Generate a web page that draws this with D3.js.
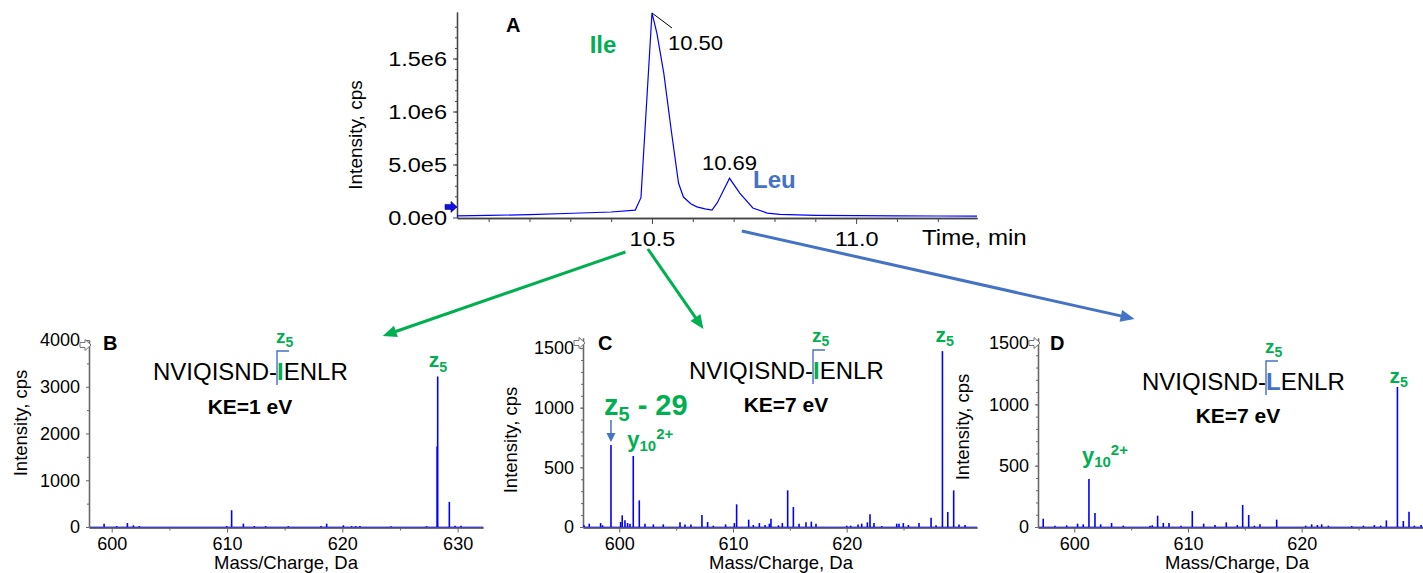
<!DOCTYPE html>
<html>
<head>
<meta charset="utf-8">
<script src="https://cdn.jsdelivr.net/npm/d3@7"></script>
<style>
  body { margin: 0; background: #fff; }
  svg { display: block; }
  text { font-family: "Liberation Sans", Arial, sans-serif; }
</style>
</head>
<body>
<svg id="fig" width="1423" height="573"></svg>
<script>
// ---------- Extracted-ion chromatogram (panel A) ----------
const chromTime = [10.0225, 10.1, 10.2, 10.307, 10.4, 10.459, 10.473, 10.50, 10.512, 10.529,
  10.548, 10.565, 10.577, 10.595, 10.61, 10.63, 10.647, 10.66, 10.69, 10.715,
  10.747, 10.782, 10.813, 10.9, 11.0, 11.1, 11.2, 11.296];
const chromIntensity = [1.6e4, 2.0e4, 2.7e4, 4.0e4, 5.2e4, 7.0e4, 1.87e5, 1.93e6, 1.74e6, 1.36e6,
  8.0e5, 3.25e5, 1.93e5, 1.3e5, 1.0e5, 8.2e4, 7.0e4, 1.4e5, 3.7e5, 2.3e5,
  9.0e4, 4.2e4, 3.0e4, 2.0e4, 1.7e4, 1.5e4, 1.4e4, 1.3e4];
const chromPeakTimes = [10.50, 10.69];
const chromTimeTicks = [10.5, 11.0];
const chromTimeMinorTicks = [10.1, 10.2, 10.3, 10.4, 10.6, 10.7, 10.8, 10.9, 11.1, 11.2];
const chromIntTicks = [0, 5e5, 1e6, 1.5e6];
const chromIntTickLabels = ["0.0e0", "5.0e5", "1.0e6", "1.5e6"];

// ---------- Product-ion spectra (panels B, C, D) ----------
const specB_mz = [599.34, 600.43, 601.36, 601.88, 602.4, 609.97, 610.40, 611.42, 612.37, 613.35,
  615.32, 618.15, 618.64, 620.09, 620.81, 621.16, 621.53, 624.22, 627.31, 628.22,
  628.27, 629.28, 629.77, 630.29];
const specB_int = [71, 20, 86, 36, 22, 22, 359, 72, 22, 20,
  20, 20, 72, 36, 20, 20, 20, 15, 20, 1720,
  3220, 538, 29, 29];

const specC_mz = [596.9, 597.36, 598.36, 598.53, 599.27, 600.12, 600.26, 600.5, 600.73, 600.94,
  601.23, 601.76, 602.26, 603.0, 603.87, 605.34, 605.78, 606.3, 607.27, 607.77,
  608.27, 609.35, 610.12, 610.32, 611.38, 611.79, 612.32, 612.82, 613.2, 613.34,
  614.0, 614.34, 614.81, 615.31, 615.81, 616.42, 616.89, 617.3, 620.0, 620.35,
  621.0, 621.32, 621.82, 622.05, 622.4, 623.08, 624.4, 624.6, 624.98, 625.43,
  626.36, 627.42, 627.86, 628.42, 628.89, 629.41, 629.88, 630.41];
const specC_int = [14, 28, 33, 14, 687, 42, 98, 56, 33, 28,
  595, 223, 28, 22, 22, 39, 22, 22, 100, 42,
  11, 22, 33, 190, 61, 17, 33, 17, 28, 70,
  14, 33, 307, 167, 28, 39, 45, 28, 11, 11,
  20, 28, 39, 106, 33, 8, 28, 28, 33, 17,
  33, 78, 14, 1474, 126, 307, 22, 17];

const specD_mz = [597.27, 598.3, 599.33, 600.29, 600.79, 601.29, 601.82, 602.32, 603.28, 604.31,
  606.66, 606.86, 607.33, 607.83, 608.33, 609.38, 610.38, 611.38, 612.38, 613.37,
  614.34, 614.81, 615.34, 615.84, 616.33, 617.8, 620.35, 620.88, 621.38, 621.76,
  622.35, 624.4, 625.43, 626.39, 626.95, 627.45, 628.42, 628.94, 629.44, 629.91, 630.5];
const specD_int = [68, 11, 14, 27, 22, 392, 114, 22, 33, 11,
  11, 14, 92, 33, 33, 11, 130, 27, 16, 38,
  16, 180, 98, 11, 22, 60, 11, 22, 16, 22,
  11, 8, 11, 16, 11, 54, 1142, 49, 125, 11, 16];

const mzTicksB = [600, 610, 620, 630];
const mzTicksCD = [600, 610, 620];
const intTicksB = [0, 1000, 2000, 3000, 4000];
const intTicksCD = [0, 500, 1000, 1500];

// ---------- Styles ----------
const GREEN = "#00B050";
const LBLUE = "#4472C4";
const TRACE = "#0000FF";
const AXIS_A = "#444";
const AXIS_S = "#666";
const A_STRETCH = 1.12;   // panel A lettering is slightly wide

const svg = d3.select("#fig");

function styleAxis(g, color, fontSize) {
  g.select(".domain").attr("stroke", color).attr("stroke-width", 1.3);
  g.selectAll(".tick line").attr("stroke", color);
  g.selectAll(".tick text").attr("fill", "#000").attr("font-size", fontSize)
    .attr("font-family", '"Liberation Sans", Arial, sans-serif');
}

// widen tick labels horizontally while keeping their anchor point in place
function stretchTicks(g, k) {
  g.selectAll(".tick text").each(function () {
    const x = +(this.getAttribute("x") || 0);
    d3.select(this).attr("x", x / k).attr("transform", `scale(${k},1)`);
  });
}

function arrowLine(p0, p1, color, width, headLen, headW) {
  const dx = p1[0] - p0[0], dy = p1[1] - p0[1];
  const len = Math.hypot(dx, dy), ux = dx / len, uy = dy / len;
  const bx = p1[0] - ux * headLen, by = p1[1] - uy * headLen;
  svg.append("line").attr("x1", p0[0]).attr("y1", p0[1]).attr("x2", bx + ux).attr("y2", by + uy)
    .attr("stroke", color).attr("stroke-width", width);
  svg.append("path")
    .attr("d", `M${p1[0]},${p1[1]} L${bx - uy * headW / 2},${by + ux * headW / 2} L${bx + uy * headW / 2},${by - ux * headW / 2} Z`)
    .attr("fill", color);
}

// ================= Panel A =================
const xA = d3.scaleLinear().domain([10.0225, 11.296]).range([457, 977]);
const yA = d3.scaleLinear().domain([0, 1.939e6]).range([217.5, 12]);
const gA = svg.append("g");

gA.append("g").attr("transform", "translate(0,218)")
  .call(d3.axisBottom(xA).tickValues(chromTimeMinorTicks).tickSize(4).tickFormat("").tickSizeOuter(0))
  .call(g => styleAxis(g, AXIS_A, 21));
gA.append("g").attr("transform", "translate(0,218)")
  .call(d3.axisBottom(xA).tickValues(chromTimeTicks).tickSize(6).tickPadding(7)
    .tickFormat(d3.format(".1f")).tickSizeOuter(0))
  .call(g => styleAxis(g, AXIS_A, 21))
  .call(g => stretchTicks(g, A_STRETCH));
gA.append("g").attr("transform", "translate(457,0)")
  .call(d3.axisLeft(yA).tickValues(d3.range(1e5, 1.9e6, 1e5)).tickSize(2).tickFormat("").tickSizeOuter(0))
  .call(g => styleAxis(g, AXIS_A, 21));
gA.append("g").attr("transform", "translate(457,0)")
  .call(d3.axisLeft(yA).tickValues(chromIntTicks).tickSize(4).tickPadding(6)
    .tickFormat((d, i) => chromIntTickLabels[i]).tickSizeOuter(0))
  .call(g => styleAxis(g, AXIS_A, 21))
  .call(g => stretchTicks(g, A_STRETCH));

// trace
gA.append("path")
  .datum(chromTime.map((t, i) => [t, chromIntensity[i]]))
  .attr("fill", "none").attr("stroke", TRACE).attr("stroke-width", 1.2)
  .attr("d", d3.line().x(d => xA(d[0])).y(d => yA(d[1])));

// start marker on the y axis
gA.append("path")
  .attr("d", "M0,-2.5 H6 V-5.5 L12,0 L6,5.5 V2.5 H0 Z")
  .attr("transform", `translate(445,${yA(1e5)})`)
  .attr("fill", "#1010E0").attr("stroke", "#000080").attr("stroke-width", 0.6);

// axis titles
gA.append("text").attr("transform", "translate(355,135) rotate(-90)")
  .attr("text-anchor", "middle").attr("dominant-baseline", "central")
  .attr("font-size", 19).text("Intensity, cps");
gA.append("text").attr("transform", `translate(922,245) scale(${A_STRETCH},1)`)
  .attr("font-size", 21.5).text("Time, min");
gA.append("text").attr("x", 506).attr("y", 32).attr("font-size", 20).attr("font-weight", "bold").text("A");

// peak apex labels
const fmt2 = d3.format(".2f");
const apex1 = chromIntensity[chromTime.indexOf(chromPeakTimes[0])];
const apex2 = chromIntensity[chromTime.indexOf(chromPeakTimes[1])];
gA.append("line")
  .attr("x1", xA(chromPeakTimes[0])).attr("y1", yA(apex1))
  .attr("x2", xA(chromPeakTimes[0]) + 20).attr("y2", yA(apex1) + 15)
  .attr("stroke", "#000").attr("stroke-width", 1);
gA.append("text")
  .attr("transform", `translate(${xA(chromPeakTimes[0]) + 16},${yA(apex1) + 37}) scale(1.05,1)`)
  .attr("font-size", 21).text(fmt2(chromPeakTimes[0]));
gA.append("text")
  .attr("transform", `translate(${xA(chromPeakTimes[1])},${yA(apex2) - 8}) scale(1.05,1)`)
  .attr("text-anchor", "middle").attr("font-size", 21).text(fmt2(chromPeakTimes[1]));
gA.append("text").attr("x", 603).attr("y", 53).attr("text-anchor", "middle")
  .attr("font-size", 24).attr("font-weight", "bold").attr("fill", GREEN).text("Ile");
gA.append("text").attr("x", 753).attr("y", 188)
  .attr("font-size", 24).attr("font-weight", "bold").attr("fill", LBLUE).text("Leu");

// ================= Spectra =================
const panels = [
  { id: "B", mz: specB_mz, inten: specB_int, xDom: [598.03, 632.2], xRange: [89, 483],
    yDom: [0, 4000], yTop: 340, xTicks: mzTicksB, yTicks: intTicksB, yMinor: d3.range(500, 4000, 1000),
    letterX: 103, seqX: 153, seqY: 380, residue: "I", resColor: GREEN,
    ke: "KE=1 eV", keX: 250, keY: 414, yTitle: [20, 423], xTitle: [286, 569] },
  { id: "C", mz: specC_mz, inten: specC_int, xDom: [596.81, 631.46], xRange: [583, 977],
    yDom: [0, 1584], yTop: 338, xTicks: mzTicksCD, yTicks: intTicksCD, yMinor: d3.range(100, 1600, 100),
    letterX: 598, seqX: 689, seqY: 379, residue: "I", resColor: GREEN,
    ke: "KE=7 eV", keX: 786, keY: 412, yTitle: [510, 440], xTitle: [781, 569] },
  { id: "D", mz: specD_mz, inten: specD_int, xDom: [596.81, 630.67], xRange: [1038, 1423],
    yDom: [0, 1541], yTop: 338, xTicks: mzTicksCD, yTicks: intTicksCD, yMinor: d3.range(100, 1600, 100),
    letterX: 1050, seqX: 1142, seqY: 390, residue: "L", resColor: LBLUE,
    ke: "KE=7 eV", keX: 1238, keY: 423, yTitle: [962, 427], xTitle: [1237, 569] }
];

const scales = {};
panels.forEach(p => {
  const x = d3.scaleLinear().domain(p.xDom).range(p.xRange);
  const y = d3.scaleLinear().domain(p.yDom).range([527, p.yTop]);
  scales[p.id] = { x, y };
  const g = svg.append("g");
  const x0 = p.xRange[0];

  // x axis with minor ticks every 5 Da
  const minor = d3.range(Math.ceil(p.xDom[0] / 5) * 5, p.xDom[1], 5).filter(v => v % 10 !== 0);
  g.append("g").attr("transform", "translate(0,527.5)")
    .call(d3.axisBottom(x).tickValues(minor).tickSize(3).tickFormat("").tickSizeOuter(0))
    .call(a => styleAxis(a, AXIS_S, 18));
  g.append("g").attr("transform", "translate(0,527.5)")
    .call(d3.axisBottom(x).tickValues(p.xTicks).tickSize(5).tickPadding(5).tickFormat(d3.format("d")).tickSizeOuter(0))
    .call(a => styleAxis(a, AXIS_S, 18));
  // y axis
  g.append("g").attr("transform", `translate(${x0},0)`)
    .call(d3.axisLeft(y).tickValues(p.yMinor).tickSize(2).tickFormat("").tickSizeOuter(0))
    .call(a => styleAxis(a, AXIS_S, 18));
  g.append("g").attr("transform", `translate(${x0},0)`)
    .call(d3.axisLeft(y).tickValues(p.yTicks).tickSize(3).tickPadding(6).tickFormat(d3.format("d")).tickSizeOuter(0))
    .call(a => styleAxis(a, AXIS_S, 18));

  // open arrow at the top of the intensity axis
  g.append("path")
    .attr("d", "M0,-2.5 H5 V-5.5 L11,0 L5,5.5 V2.5 H0 Z")
    .attr("transform", `translate(${x0 - 9},${p.yTop + 5})`)
    .attr("fill", "#fff").attr("stroke", "#777").attr("stroke-width", 1);

  // baseline and centroid sticks
  g.append("line").attr("x1", x0 + 1).attr("x2", p.xRange[1]).attr("y1", y(0)).attr("y2", y(0))
    .attr("stroke", TRACE).attr("stroke-width", 1).attr("stroke-opacity", 0.7);
  g.selectAll("line.stick").data(p.mz.map((m, i) => [m, p.inten[i]])).join("line")
    .attr("class", "stick")
    .attr("x1", d => x(d[0])).attr("x2", d => x(d[0]))
    .attr("y1", y(0)).attr("y2", d => y(d[1]))
    .attr("stroke", TRACE).attr("stroke-width", 1.6);

  // titles
  g.append("text").attr("transform", `translate(${p.yTitle[0]},${p.yTitle[1]}) rotate(-90)`)
    .attr("text-anchor", "middle").attr("dominant-baseline", "central")
    .attr("font-size", 18.5).text("Intensity, cps");
  g.append("text").attr("x", p.xTitle[0]).attr("y", p.xTitle[1]).attr("text-anchor", "middle")
    .attr("font-size", 18.5).text("Mass/Charge, Da");
  g.append("text").attr("x", p.letterX).attr("y", 350).attr("font-size", 20)
    .attr("font-weight", "bold").text(p.id);

  // peptide sequence with the cleavage bracket
  const seq = g.append("text").attr("x", p.seqX).attr("y", p.seqY).attr("font-size", 24);
  seq.append("tspan").text("NVIQISND-");
  seq.append("tspan").attr("font-weight", "bold").attr("fill", p.resColor).text(p.residue);
  seq.append("tspan").text("ENLR");
  const bx = p.seqX + seq.node().getSubStringLength(0, 9);
  const top = p.seqY - 29, bot = p.seqY + 5;
  g.append("path").attr("d", `M${bx + 12},${top} H${bx} V${bot}`)
    .attr("fill", "none").attr("stroke", LBLUE).attr("stroke-width", 1.4);
  const zl = g.append("text").attr("x", bx - 1).attr("y", top - 8)
    .attr("font-weight", "bold").attr("fill", GREEN);
  zl.append("tspan").attr("font-size", 19).text("z");
  zl.append("tspan").attr("font-size", 14).attr("dy", 4).text("5");

  g.append("text").attr("x", p.keX).attr("y", p.keY).attr("text-anchor", "middle")
    .attr("font-size", 21).attr("font-weight", "bold").text(p.ke);
});

// fragment labels anchored to their sticks
function ionLabel(panelId, mz, dx, dy, base, sub, sup, size) {
  const p = panels.find(q => q.id === panelId);
  const { x, y } = scales[panelId];
  const inten = p.inten[p.mz.indexOf(mz)];
  const t = svg.append("text").attr("x", x(mz) + dx).attr("y", y(inten) + dy)
    .attr("font-weight", "bold").attr("fill", GREEN);
  t.append("tspan").attr("font-size", size).text(base);
  t.append("tspan").attr("font-size", size * 0.68).attr("dy", size * 0.2).text(sub);
  if (sup) t.append("tspan").attr("font-size", size * 0.68).attr("dy", -size * 0.55).text(sup);
}

ionLabel("B", 628.27, -9, -9, "z", "5", null, 21);
ionLabel("C", 628.42, -7, -9, "z", "5", null, 21);
ionLabel("D", 628.42, -8, -4, "z", "5", null, 21);
ionLabel("C", 601.23, -6, -9, "y", "10", "2+", 22);
ionLabel("D", 601.29, -7, -16, "y", "10", "2+", 22);

// z5 - 29 annotation in C
{
  const { x, y } = scales.C;
  const mz = 599.27, inten = specC_int[specC_mz.indexOf(mz)];
  const t = svg.append("text").attr("x", x(mz) - 7).attr("y", y(inten) - 30)
    .attr("font-weight", "bold").attr("fill", GREEN);
  t.append("tspan").attr("font-size", 29).text("z");
  t.append("tspan").attr("font-size", 20).attr("dy", 6).text("5");
  t.append("tspan").attr("font-size", 29).attr("dy", -6).text(" - 29");
  arrowLine([x(mz), y(inten) - 25], [x(mz), y(inten) - 3], LBLUE, 1.5, 9, 9);
}

// ================= Connecting arrows =================
arrowLine([xA(10.435), 252], [scales.B.x(623.5), 336], GREEN, 3, 14, 12);
arrowLine([xA(10.49), 249], [scales.C.x(607.4), 329], GREEN, 3, 14, 12);
arrowLine([xA(10.72), 231], [scales.D.x(605.3), 319], LBLUE, 3, 14, 12);
</script>
</body>
</html>
